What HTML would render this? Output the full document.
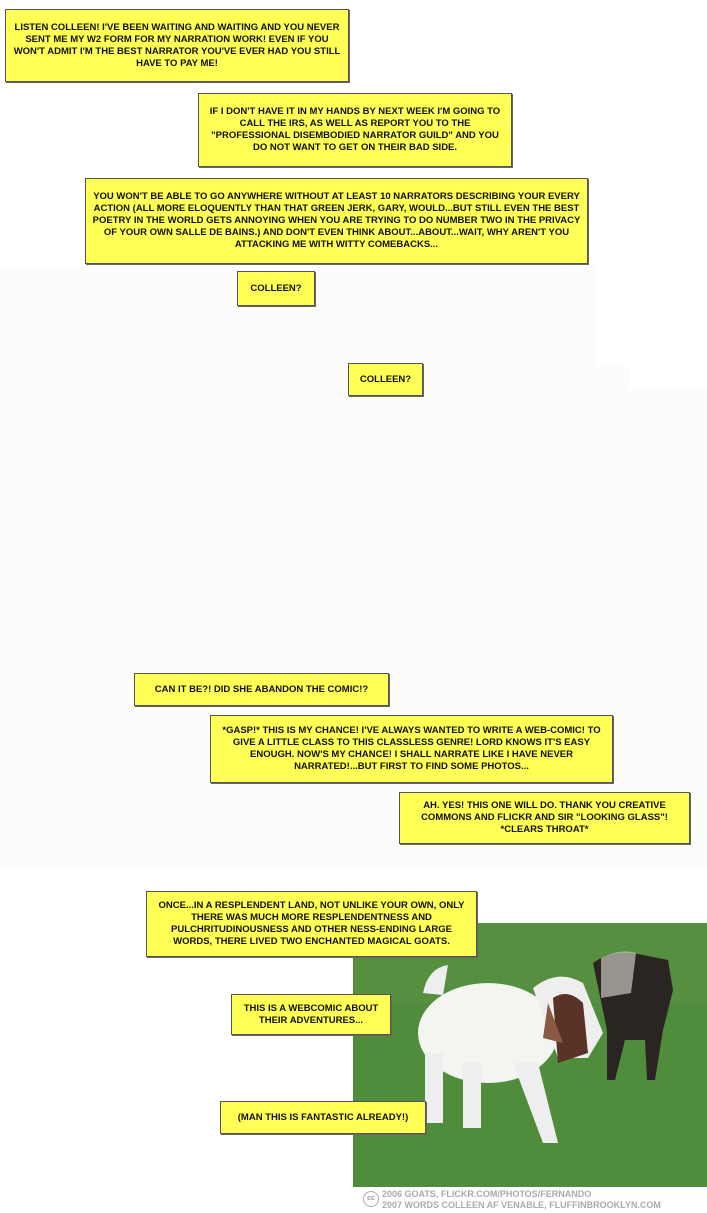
<!DOCTYPE html>
<html><head><meta charset="utf-8"><style>
body{margin:0;width:707px;height:1213px;position:relative;background:#fff;overflow:hidden;font-family:"Liberation Sans",sans-serif}
.b{position:absolute;box-sizing:border-box;background:#ffff55;border:1px solid #555;box-shadow:1px 1px 0 #666;display:flex;align-items:center;justify-content:center;text-align:center;font-size:9.5px;font-weight:bold;line-height:12px;text-transform:uppercase;color:#111;padding:0 6px}
.bg{position:absolute;background:#fcfdfa}
</style></head><body>
<div class="bg" style="left:0;top:266px;width:597px;height:100px"></div>
<div class="bg" style="left:0;top:366px;width:630px;height:500px"></div>
<div class="bg" style="left:630px;top:390px;width:77px;height:476px"></div>

<div class="b" style="left:5px;top:9px;width:344px;height:73px">Listen Colleen! I've been waiting and waiting and you never sent me my W2 form for my narration work! Even if you won't admit I'm the best narrator you've ever had you still have to pay me!</div>
<div class="b" style="left:198px;top:93px;width:314px;height:74px">If I don't have it in my hands by next week I'm going to call the IRS, as well as report you to the "Professional Disembodied Narrator Guild" and you do not want to get on their bad side.</div>
<div class="b" style="left:85px;top:178px;width:503px;height:86px">You won't be able to go anywhere without at least 10 narrators describing your every action (all more eloquently than that green jerk, Gary, would...but still even the best poetry in the world gets annoying when you are trying to do number two in the privacy of your own salle de bains.) And don't even think about...about...wait, why aren't you attacking me with witty comebacks...</div>
<div class="b" style="left:237px;top:271px;width:78px;height:35px">Colleen?</div>
<div class="b" style="left:348px;top:363px;width:75px;height:33px">Colleen?</div>
<div class="b" style="left:134px;top:673px;width:255px;height:33px">Can it be?! Did she abandon the comic!?</div>
<div class="b" style="left:210px;top:715px;width:403px;height:68px">*Gasp!* This is my chance! I've always wanted to write a web-comic! To give a little class to this classless genre! Lord knows it's easy enough. Now's my chance! I shall narrate like I have never narrated!...But first to find some photos...</div>
<div class="b" style="left:399px;top:792px;width:291px;height:52px">Ah. Yes! This one will do. Thank you Creative Commons and Flickr and Sir "Looking Glass"! *clears throat*</div>

<svg style="position:absolute;left:353px;top:923px" width="354" height="264">
<rect width="354" height="264" fill="#4f8c3c"/>
<rect y="0" width="354" height="80" fill="#568f40"/>
<path d="M240 40 q20-15 50-8 l25 5 l5 30 l-10 40 l-8 50 h-8 l-2-40 l-20 0 l-10 40 h-8 l0-50 z" fill="#2a2522"/>
<path d="M248 35 q20-10 35-5 l-5 40 l-30 5 z" fill="#c8c4bc" opacity=".7"/>
<ellipse cx="135" cy="110" rx="70" ry="50" fill="#f4f4f0"/>
<path d="M70 70 q5-25 25-28 l-5 30 z" fill="#eee"/>
<rect x="72" y="130" width="18" height="70" fill="#eee"/>
<rect x="110" y="140" width="18" height="65" fill="#eee"/>
<path d="M160 140 l30 80 l15 0 l-20-80 z" fill="#eee"/>
<path d="M180 65 q25-20 50-5 l20 50 l-15 25 l-30 0 z" fill="#eee"/>
<path d="M200 75 q15-10 30 5 l5 50 l-30 10 z" fill="#5a3226"/>
<path d="M195 80 l15 40 l-20 -5 z" fill="#8a5a44"/>
</svg>

<div class="b" style="left:146px;top:891px;width:331px;height:66px">Once...in a resplendent land, not unlike your own, only there was much more resplendentness and pulchritudinousness and other ness-ending large words, there lived two enchanted magical goats.</div>
<div class="b" style="left:231px;top:994px;width:160px;height:41px">This is a webcomic about their adventures...</div>
<div class="b" style="left:220px;top:1101px;width:206px;height:33px">(Man this is fantastic already!)</div>

<div style="position:absolute;left:363px;top:1191px;width:16px;height:16px;border:1.5px solid #aaa;border-radius:50%;box-sizing:border-box;font-size:7px;color:#999;text-align:center;line-height:13px;font-family:'Liberation Sans',sans-serif;font-weight:bold">cc</div>
<div style="position:absolute;left:382px;top:1189px;font-size:9px;line-height:11px;color:#aaa;font-weight:bold;text-transform:uppercase;white-space:nowrap">2006 goats, flickr.com/photos/fernando<br>2007 words Colleen AF Venable, fluffinbrooklyn.com</div>
</body></html>
